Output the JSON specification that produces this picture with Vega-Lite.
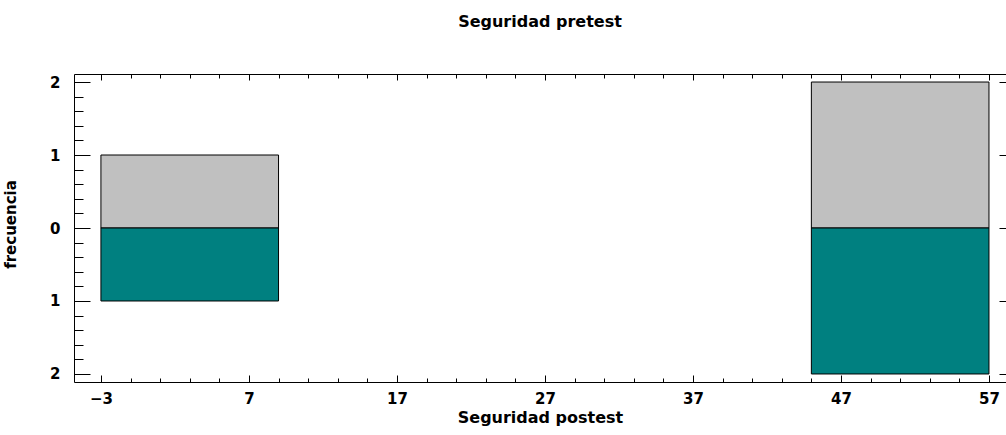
{
  "$schema": "https://vega.github.io/schema/vega-lite/v6.json",
  "autosize": {"type": "none"},
  "width": 932,
  "height": 308,
  "padding": {"left": 74, "top": 74, "right": 0, "bottom": 53},
  "background": "white",
  "title": {"text": "Seguridad pretest", "fontSize": 16, "fontWeight": "bold", "font": "DejaVu Sans", "color": "black", "offset": 44, "anchor": "middle"},
  "config": {
    "font": "DejaVu Sans",
    "view": {"stroke": "black", "strokeWidth": 1},
    "axis": {"grid": false, "domain": false, "tickColor": "black", "tickWidth": 1, "labelColor": "black", "titleColor": "black", "labelFont": "DejaVu Sans", "titleFont": "DejaVu Sans", "labelFontWeight": "bold", "titleFontWeight": "bold", "labelFontSize": 15, "titleFontSize": 16}
  },
  "datasets": {
    "pre": [
      {"desde": -3, "hasta": 9, "frecuencia": 1},
      {"desde": 45, "hasta": 57, "frecuencia": 2}
    ],
    "post": [
      {"desde": -3, "hasta": 9, "frecuencia": -1},
      {"desde": 45, "hasta": 57, "frecuencia": -2}
    ]
  },
  "resolve": {"axis": {"x": "independent", "y": "independent"}},
  "layer": [
    {
      "data": {"name": "pre"},
      "mark": {"type": "bar", "color": "#C0C0C0", "stroke": "black", "strokeWidth": 1},
      "encoding": {
        "x": {"field": "desde", "type": "quantitative", "scale": {"domain": [-4.82, 58.15], "nice": false, "zero": false},
          "axis": {"orient": "bottom", "values": [-3, 7, 17, 27, 37, 47, 57], "ticks": false, "labelPadding": 9, "title": "Seguridad postest", "titlePadding": 3}},
        "x2": {"field": "hasta"},
        "y": {"field": "frecuencia", "type": "quantitative", "scale": {"domain": [-2.11, 2.11], "nice": false, "zero": false},
          "axis": {"orient": "left", "values": [-2, -1, 0, 1, 2], "ticks": false, "labelPadding": 14, "labelExpr": "abs(datum.value)", "title": "frecuencia", "titleFontSize": 15, "titleX": -59, "titleY": 150, "titleAngle": -90, "titleBaseline": "alphabetic", "titleAlign": "center"}},
        "y2": {"datum": 0}
      }
    },
    {
      "data": {"name": "post"},
      "mark": {"type": "bar", "color": "#008080", "stroke": "black", "strokeWidth": 1},
      "encoding": {
        "x": {"field": "desde", "type": "quantitative", "scale": {"domain": [-4.82, 58.15], "nice": false, "zero": false},
          "axis": {"orient": "bottom", "values": [-3, 7, 17, 27, 37, 47, 57], "tickSize": -7, "labels": false, "title": null}},
        "x2": {"field": "hasta"},
        "y": {"field": "frecuencia", "type": "quantitative", "scale": {"domain": [-2.11, 2.11], "nice": false, "zero": false},
          "axis": {"orient": "left", "values": [-2, -1, 0, 1, 2], "tickSize": -16, "labels": false, "title": null}},
        "y2": {"datum": 0}
      }
    },
    {
      "data": {"name": "pre"},
      "mark": {"type": "bar", "opacity": 0},
      "encoding": {
        "x": {"field": "desde", "type": "quantitative", "scale": {"domain": [-4.82, 58.15], "nice": false, "zero": false},
          "axis": {"orient": "bottom", "values": [-3, -1, 1, 3, 5, 7, 9, 11, 13, 15, 17, 19, 21, 23, 25, 27, 29, 31, 33, 35, 37, 39, 41, 43, 45, 47, 49, 51, 53, 55, 57], "tickSize": -4, "labels": false, "title": null}},
        "x2": {"field": "hasta"},
        "y": {"field": "frecuencia", "type": "quantitative", "scale": {"domain": [-2.11, 2.11], "nice": false, "zero": false},
          "axis": {"orient": "left", "values": [-2, -1.8, -1.6, -1.4, -1.2, -1, -0.8, -0.6, -0.4, -0.2, 0, 0.2, 0.4, 0.6, 0.8, 1, 1.2, 1.4, 1.6, 1.8, 2], "tickSize": -9, "labels": false, "title": null}},
        "y2": {"datum": 0}
      }
    },
    {
      "data": {"name": "pre"},
      "mark": {"type": "bar", "opacity": 0},
      "encoding": {
        "x": {"field": "desde", "type": "quantitative", "scale": {"domain": [-4.82, 58.15], "nice": false, "zero": false},
          "axis": {"orient": "top", "values": [-3, 7, 17, 27, 37, 47, 57], "tickSize": -6, "labels": false, "title": null}},
        "x2": {"field": "hasta"},
        "y": {"field": "frecuencia", "type": "quantitative", "scale": {"domain": [-2.11, 2.11], "nice": false, "zero": false},
          "axis": {"orient": "right", "values": [-2, -1, 0, 1, 2], "tickSize": -7, "labels": false, "title": null}},
        "y2": {"datum": 0}
      }
    },
    {
      "data": {"name": "pre"},
      "mark": {"type": "bar", "opacity": 0},
      "encoding": {
        "x": {"field": "desde", "type": "quantitative", "scale": {"domain": [-4.82, 58.15], "nice": false, "zero": false},
          "axis": {"orient": "top", "values": [-3, -1, 1, 3, 5, 7, 9, 11, 13, 15, 17, 19, 21, 23, 25, 27, 29, 31, 33, 35, 37, 39, 41, 43, 45, 47, 49, 51, 53, 55, 57], "tickSize": -4, "labels": false, "title": null}},
        "x2": {"field": "hasta"},
        "y": {"field": "frecuencia", "type": "quantitative", "scale": {"domain": [-2.11, 2.11], "nice": false, "zero": false}, "axis": null},
        "y2": {"datum": 0}
      }
    },
    {
      "mark": {"type": "rule", "color": "black", "strokeWidth": 1},
      "encoding": {
        "y": {"datum": 0, "type": "quantitative", "scale": {"domain": [-2.11, 2.11], "nice": false, "zero": false}, "axis": null}
      }
    }
  ]
}
